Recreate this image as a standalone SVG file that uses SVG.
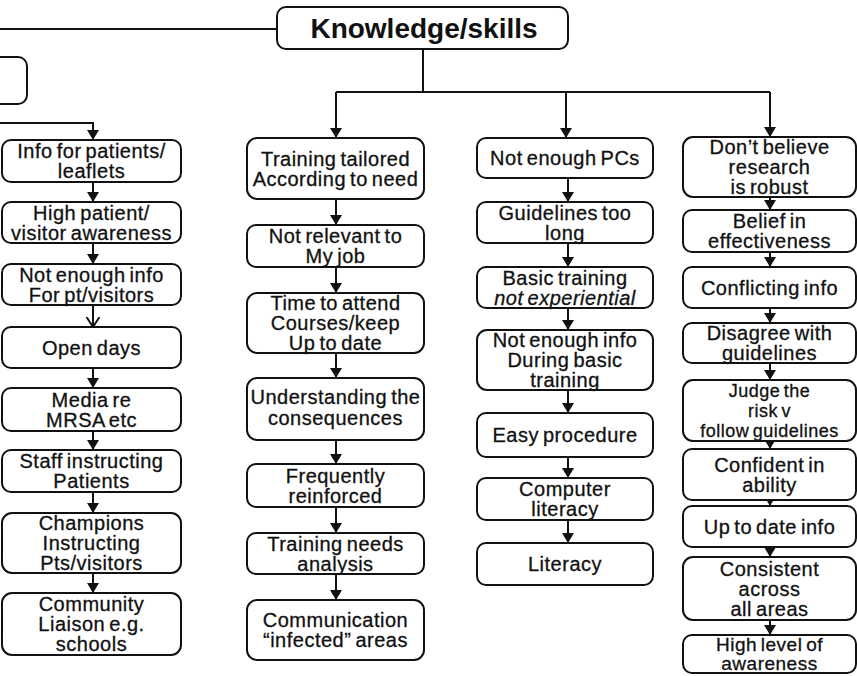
<svg xmlns="http://www.w3.org/2000/svg" width="857" height="676" viewBox="0 0 857 676">
<style>
.box{fill:#fff;stroke:#111;stroke-width:2}
.t{font-family:"Liberation Sans",Arial,sans-serif;font-size:20px;letter-spacing:0.5px;word-spacing:-2px;fill:#111;stroke:#111;stroke-width:0.3;text-anchor:middle}
.s18{font-size:18px}
.s19{font-size:19px}
.title{font-family:"Liberation Sans",Arial,sans-serif;font-size:28px;font-weight:bold;fill:#111;text-anchor:middle}
.ln{fill:none;stroke:#111;stroke-width:2}
.ar{fill:none;stroke:#111;stroke-width:2;marker-end:url(#ah)}
.ao{fill:none;stroke:#111;stroke-width:2;marker-end:url(#ao)}
</style>
<defs>
<marker id="ah" markerUnits="userSpaceOnUse" markerWidth="12" markerHeight="12" refX="10" refY="6" orient="auto"><path d="M0,0 L10,6 L0,12 z" fill="#111"/></marker>
<marker id="ao" markerUnits="userSpaceOnUse" markerWidth="12" markerHeight="14" refX="10" refY="7" orient="auto"><path d="M0,0.5 L10,7 L0,13.5" fill="none" stroke="#111" stroke-width="2"/></marker>
</defs>

<g id="connectors">
<path class="ln" d="M0,29 H277"/>
<path class="ln" d="M423,49 V92 M336,92 H770"/>
<path class="ar" d="M336,92 V138"/>
<path class="ar" d="M566,92 V138"/>
<path class="ar" d="M770,92 V137"/>
<path class="ar" d="M0,123 H93 V140"/>
<path class="ar" d="M93,182 V202"/>
<path class="ar" d="M93,243 V264"/>
<path class="ao" d="M93,305 V327"/>
<path class="ar" d="M93,368 V388"/>
<path class="ar" d="M93,431 V450"/>
<path class="ar" d="M93,492 V513"/>
<path class="ar" d="M93,573 V593"/>
<path class="ar" d="M336,199 V225"/>
<path class="ar" d="M336,267 V293"/>
<path class="ar" d="M336,353 V378"/>
<path class="ar" d="M336,440 V464"/>
<path class="ar" d="M336,507 V533"/>
<path class="ar" d="M336,574 V600"/>
<path class="ar" d="M568,178 V202"/>
<path class="ar" d="M568,243 V267"/>
<path class="ar" d="M568,308 V330"/>
<path class="ar" d="M568,390 V413"/>
<path class="ar" d="M568,457 V478"/>
<path class="ar" d="M568,520 V543"/>
<path class="ar" d="M770,197 V210"/>
<path class="ar" d="M770,252 V267"/>
<path class="ar" d="M770,308 V323"/>
<path class="ar" d="M770,363 V380"/>
<path class="ar" d="M770,441 V449"/>
<path class="ar" d="M770,500 V506"/>
<path class="ar" d="M770,547 V557"/>
<path class="ar" d="M770,620 V635"/>
</g>

<g id="n-knowledge"><rect class="box" x="277" y="7" width="291" height="42" rx="9"/><text class="title" x="424" y="38">Knowledge/skills</text></g>
<g id="n-partial"><rect class="box" x="-20" y="57" width="47" height="47" rx="9"/></g>

<g id="c1n1"><rect class="box" x="2" y="140" width="179" height="42" rx="9"/><text class="t" x="91.5" y="158">Info for patients/</text><text class="t" x="91.5" y="178">leaflets</text></g>
<g id="c1n2"><rect class="box" x="2" y="202" width="179" height="41" rx="9"/><text class="t" x="91.5" y="219.5">High patient/</text><text class="t" x="91.5" y="239.5">visitor awareness</text></g>
<g id="c1n3"><rect class="box" x="2" y="264" width="179" height="41" rx="9"/><text class="t" x="91.5" y="281.5">Not enough info</text><text class="t" x="91.5" y="301.5">For pt/visitors</text></g>
<g id="c1n4"><rect class="box" x="2" y="327" width="179" height="41" rx="9"/><text class="t" x="91.5" y="354.5">Open days</text></g>
<g id="c1n5"><rect class="box" x="2" y="388" width="179" height="43" rx="9"/><text class="t" x="91.5" y="406.5">Media re</text><text class="t" x="91.5" y="426.5">MRSA etc</text></g>
<g id="c1n6"><rect class="box" x="2" y="450" width="179" height="42" rx="9"/><text class="t" x="91.5" y="468">Staff instructing</text><text class="t" x="91.5" y="488">Patients</text></g>
<g id="c1n7"><rect class="box" x="2" y="513" width="179" height="60" rx="10"/><text class="t" x="91.5" y="530">Champions</text><text class="t" x="91.5" y="550">Instructing</text><text class="t" x="91.5" y="570">Pts/visitors</text></g>
<g id="c1n8"><rect class="box" x="2" y="593" width="179" height="62" rx="10"/><text class="t" x="91.5" y="611">Community</text><text class="t" x="91.5" y="631">Liaison e.g.</text><text class="t" x="91.5" y="651">schools</text></g>

<g id="c2n1"><rect class="box" x="247" y="138" width="177" height="61" rx="10"/><text class="t" x="335.5" y="165.5">Training tailored</text><text class="t" x="335.5" y="185.5">According to need</text></g>
<g id="c2n2"><rect class="box" x="247" y="225" width="177" height="42" rx="9"/><text class="t" x="335.5" y="243">Not relevant to</text><text class="t" x="335.5" y="263">My job</text></g>
<g id="c2n3"><rect class="box" x="247" y="293" width="177" height="60" rx="10"/><text class="t" x="335.5" y="310">Time to attend</text><text class="t" x="335.5" y="330">Courses/keep</text><text class="t" x="335.5" y="350">Up to date</text></g>
<g id="c2n4"><rect class="box" x="247" y="378" width="177" height="62" rx="10"/><text class="t" x="335.5" y="404">Understanding the</text><text class="t" x="335.5" y="425">consequences</text></g>
<g id="c2n5"><rect class="box" x="247" y="464" width="177" height="43" rx="9"/><text class="t" x="335.5" y="482.5">Frequently</text><text class="t" x="335.5" y="502.5">reinforced</text></g>
<g id="c2n6"><rect class="box" x="247" y="533" width="177" height="41" rx="9"/><text class="t" x="335.5" y="550.5">Training needs</text><text class="t" x="335.5" y="570.5">analysis</text></g>
<g id="c2n7"><rect class="box" x="247" y="600" width="177" height="60" rx="10"/><text class="t" x="335.5" y="627">Communication</text><text class="t" x="335.5" y="647">“infected” areas</text></g>

<g id="c3n1"><rect class="box" x="477" y="138" width="176" height="40" rx="9"/><text class="t" x="565" y="165">Not enough PCs</text></g>
<g id="c3n2"><rect class="box" x="477" y="202" width="176" height="41" rx="9"/><text class="t" x="565" y="219.5">Guidelines too</text><text class="t" x="565" y="239.5">long</text></g>
<g id="c3n3"><rect class="box" x="477" y="267" width="176" height="41" rx="9"/><text class="t" x="565" y="284.5">Basic training</text><text class="t" x="565" y="304.5" font-style="italic">not experiential</text></g>
<g id="c3n4"><rect class="box" x="477" y="330" width="176" height="60" rx="10"/><text class="t" x="565" y="347">Not enough info</text><text class="t" x="565" y="367">During basic</text><text class="t" x="565" y="387">training</text></g>
<g id="c3n5"><rect class="box" x="477" y="413" width="176" height="44" rx="9"/><text class="t" x="565" y="442">Easy procedure</text></g>
<g id="c3n6"><rect class="box" x="477" y="478" width="176" height="42" rx="9"/><text class="t" x="565" y="496">Computer</text><text class="t" x="565" y="516">literacy</text></g>
<g id="c3n7"><rect class="box" x="477" y="543" width="176" height="42" rx="9"/><text class="t" x="565" y="571">Literacy</text></g>

<g id="c4n1"><rect class="box" x="683" y="137" width="173" height="60" rx="10"/><text class="t" x="769.5" y="154">Don’t believe</text><text class="t" x="769.5" y="174">research</text><text class="t" x="769.5" y="194">is robust</text></g>
<g id="c4n2"><rect class="box" x="683" y="210" width="173" height="42" rx="9"/><text class="t" x="769.5" y="228">Belief in</text><text class="t" x="769.5" y="248">effectiveness</text></g>
<g id="c4n3"><rect class="box" x="683" y="267" width="173" height="41" rx="9"/><text class="t" x="769.5" y="294.5">Conflicting info</text></g>
<g id="c4n4"><rect class="box" x="683" y="323" width="173" height="40" rx="9"/><text class="t" x="769.5" y="340">Disagree with</text><text class="t" x="769.5" y="360">guidelines</text></g>
<g id="c4n5"><rect class="box" x="683" y="380" width="173" height="61" rx="10"/><text class="t s18" x="769.5" y="397">Judge the</text><text class="t s18" x="769.5" y="417">risk v</text><text class="t s18" x="769.5" y="437">follow guidelines</text></g>
<g id="c4n6"><rect class="box" x="683" y="449" width="173" height="51" rx="9"/><text class="t" x="769.5" y="471.5">Confident in</text><text class="t" x="769.5" y="491.5">ability</text></g>
<g id="c4n7"><rect class="box" x="683" y="506" width="173" height="41" rx="9"/><text class="t" x="769.5" y="533.5">Up to date info</text></g>
<g id="c4n8"><rect class="box" x="683" y="557" width="173" height="63" rx="10"/><text class="t" x="769.5" y="575.5">Consistent</text><text class="t" x="769.5" y="595.5">across</text><text class="t" x="769.5" y="615.5">all areas</text></g>
<g id="c4n9"><rect class="box" x="683" y="635" width="173" height="38" rx="9"/><text class="t s19" x="769.5" y="651">High level of</text><text class="t s19" x="769.5" y="670">awareness</text></g>
</svg>
